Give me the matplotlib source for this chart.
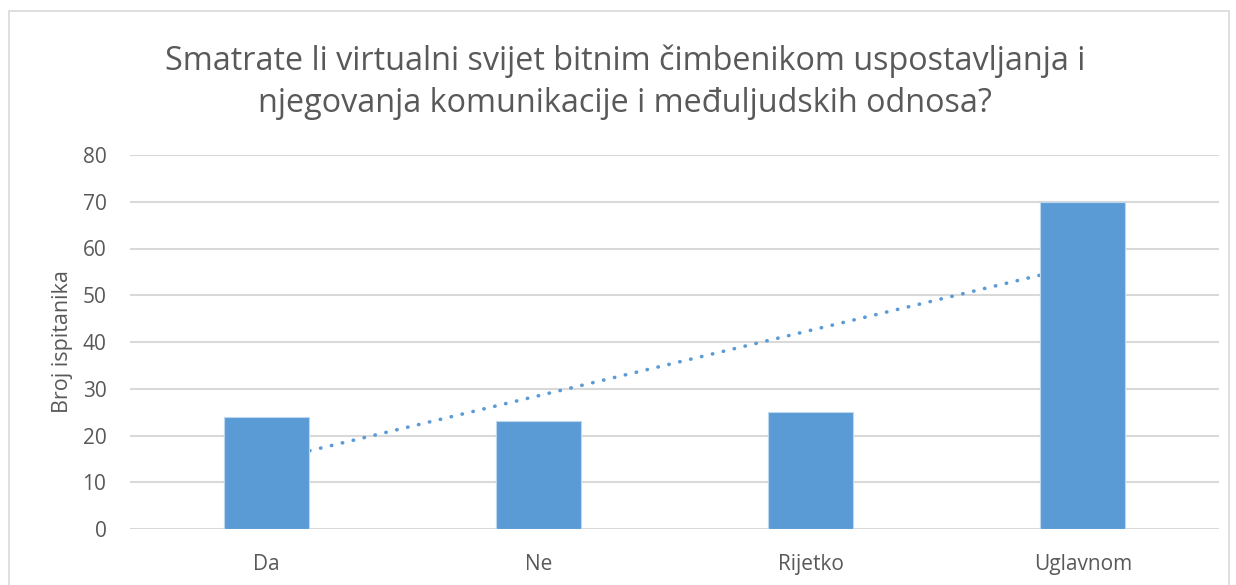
import numpy as np
import matplotlib.pyplot as plt
from matplotlib.patches import Rectangle

# podaci
kategorije = ['Da', 'Ne', 'Rijetko', 'Uglavnom']
broj_ispitanika = [24, 23, 25, 70]
yticks = [0, 10, 20, 30, 40, 50, 60, 70, 80]

naslov = ('Smatrate li virtualni svijet bitnim čimbenikom uspostavljanja i\n'
          'njegovanja komunikacije i međuljudskih odnosa?')

plava = '#5b9bd5'
siva_tekst = '#595959'
siva_mreza = '#d9d9d9'

plt.rcParams['font.family'] = ['Open Sans', 'DejaVu Sans']

fig = plt.figure(figsize=(12.36, 5.85), dpi=100)
ax = fig.add_axes([130 / 1236, 1 - 529 / 585, 1089 / 1236, 374 / 585])

x = np.arange(len(kategorije))

# linearni trend (iza stupaca)
k, b = np.polyfit(x + 1, broj_ispitanika, 1)
ax.plot(x, k * (x + 1) + b, color=plava, lw=2.6, ls=(0, (0.1, 3.0)),
        dash_capstyle='round', zorder=2)

ax.bar(x, broj_ispitanika, width=0.313, color=plava, edgecolor='#bdd7ee',
       linewidth=0.8, zorder=3)

ax.set_xlim(-0.5, len(kategorije) - 0.5)
ax.set_ylim(0, 80)
ax.set_yticks(yticks)
ax.set_xticks(x)
ax.set_xticklabels(kategorije)
ax.grid(axis='y', color=siva_mreza, lw=1.5, zorder=0)
ax.set_axisbelow(True)
for s in ax.spines.values():
    s.set_visible(False)
ax.tick_params(length=0, labelsize=15, colors=siva_tekst)
ax.tick_params(axis='x', pad=18)
ax.tick_params(axis='y', pad=17)
ax.set_ylabel('Broj ispitanika', fontsize=15.5, color=siva_tekst, labelpad=7)

fig.text(625 / 1236, 1 - 82 / 585, naslov, ha='center', va='center',
         fontsize=23.3, color=siva_tekst, linespacing=1.35)

# okvir grafikona
fig.patches.append(Rectangle((9 / 1236, -0.1), 1220 / 1236, 1.1 - 11 / 585,
                             transform=fig.transFigure, fill=False,
                             edgecolor='#d9d9d9', lw=1.2))

fig.savefig('out.png', dpi=100)
